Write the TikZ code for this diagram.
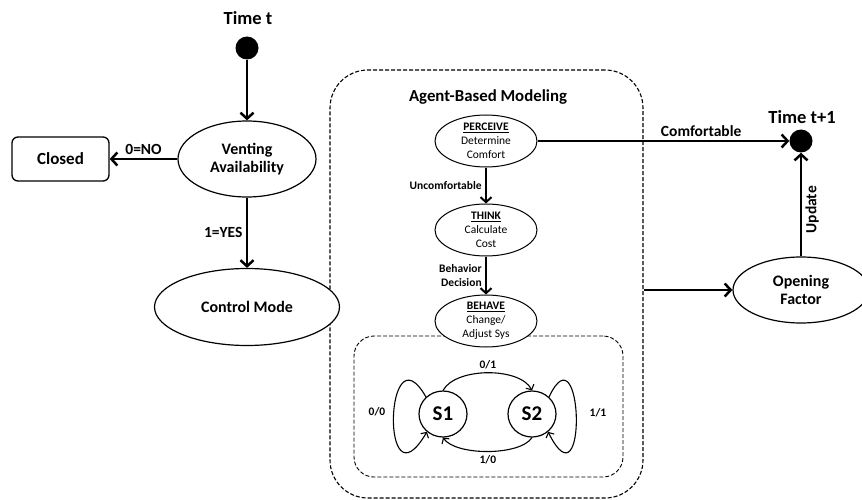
\documentclass[tikz,border=0pt]{standalone}
\usepackage{fontspec}
\setmainfont{Carlito}
\usetikzlibrary{shapes,arrows.meta}
\tikzset{
  flow/.style={line width=2.5pt,-{Straight Barb[length=6pt,width=13pt]}},
  smallflow/.style={line width=2pt,-{Straight Barb[length=5pt,width=11pt]}},
  loopflow/.style={line width=1.1pt,-{Straight Barb[length=4pt,width=9pt]}},
  group/.style={draw,dash pattern=on 4pt off 2pt,rectangle},
  lbl/.style={font=\fontsize{15.5}{18}\selectfont\bfseries},
  smalllbl/.style={font=\fontsize{11.5}{14}\selectfont\bfseries},
  title/.style={font=\fontsize{18.5}{20}\selectfont\bfseries}
}
\newcommand{\dotnode}[3]{\node[circle,fill,inner sep=0pt,minimum size=23pt] (#1) at (#2,#3) {};}
\newcommand{\state}[6]{\node[draw,ellipse,fill=white,line width=1.2pt,inner sep=0pt,minimum width=#4pt,minimum height=#5pt,align=center,font=\fontsize{16}{18}\selectfont\bfseries] (#1) at (#2,#3) {#6};}
\newcommand{\activity}[5]{\node[draw,ellipse,fill=white,line width=1pt,minimum width=102pt,minimum height=52pt,label={[align=center,font=\fontsize{11.5}{14}\selectfont]center:{\textbf{\underline{#4}}\\#5}}] (#1) at (#2,#3) {};}
\newcommand{\link}[2]{\draw[flow] (#1) -- (#2);}

\begin{document}
\begin{tikzpicture}[x=1pt,y=-1pt]
    \useasboundingbox (0,0) rectangle (862,500);
    \node[group,line width=1.1pt,minimum width=313pt,minimum height=428pt,rounded corners=38pt] (abm) at (486.5,284) {};
    \node[group,line width=0.9pt,minimum width=269pt,minimum height=141pt,rounded corners=20pt] (sys) at (488.5,406.5) {};
    \node[title,font=\fontsize{16.8}{20}\selectfont\bfseries] (abmlbl) at (488,97) {Agent-Based Modeling};
    \node[title] (timet) at (248,18) {Time t}; \node[title] (timet1) at (802,117) {Time t+1};
    \dotnode{t0}{247}{48}    \dotnode{t1}{801}{141}
    \state{venting}{247}{159}{138}{76}{Venting\\Availability}
    \node[draw,rounded corners=6pt,line width=1.3pt,minimum width=97pt,minimum height=44pt,font=\fontsize{17}{18}\selectfont\bfseries] (closed) at (60.5,159) {Closed};
    \state{control}{247}{307}{185}{77}{Control Mode}
    \state{opening}{801}{290}{136}{66}{Opening\\Factor}
    \activity{perceive}{486}{141}{PERCEIVE}{Determine\\Comfort}
    \activity{think}{486}{230}{THINK}{Calculate\\Cost}
    \activity{behave}{486}{321}{BEHAVE}{Change/\\Adjust Sys}
    \state{s1}{443}{414}{48}{46}{\fontsize{21}{22}\selectfont S1}
    \state{s2}{532}{414}{48}{46}{\fontsize{21}{22}\selectfont S2}
    \link{t0}{venting}
    \draw[flow] (venting) -- node[lbl,above]{0=NO} (closed);
    \draw[flow] (venting) -- node[lbl,left]{1=YES} (control);
    \draw[flow] (perceive) -- node[lbl,above,pos=0.65]{Comfortable} (t1);
    \draw[smallflow] (perceive) -- node[smalllbl,left]{Uncomfortable} (think);
    \draw[smallflow] (think) -- node[smalllbl,left,align=right]{Behavior\\Decision} (behave);
    \link{abm.east |- opening}{opening}
    \draw[flow] (opening) -- node[lbl,sloped,below,pos=0.45]{Update} (t1);
    \draw[loopflow] (s1.north) .. controls (456,367) and (520,367) .. node[smalllbl,above]{0/1} (s2.north);
    \draw[loopflow] (s2.south) .. controls (520,456) and (456,456) .. node[smalllbl,below]{1/0} (s1.south);
    \draw[loopflow] (s1.135) .. controls (385,325) and (380,512) .. (s1.228);
    \draw[loopflow] (s2.45) .. controls (583,325) and (588,512) .. (s2.312);
    \node[smalllbl] (l00) at (377,412) {0/0}; \node[smalllbl] (l11) at (598,413) {1/1};
\end{tikzpicture}
\end{document}
